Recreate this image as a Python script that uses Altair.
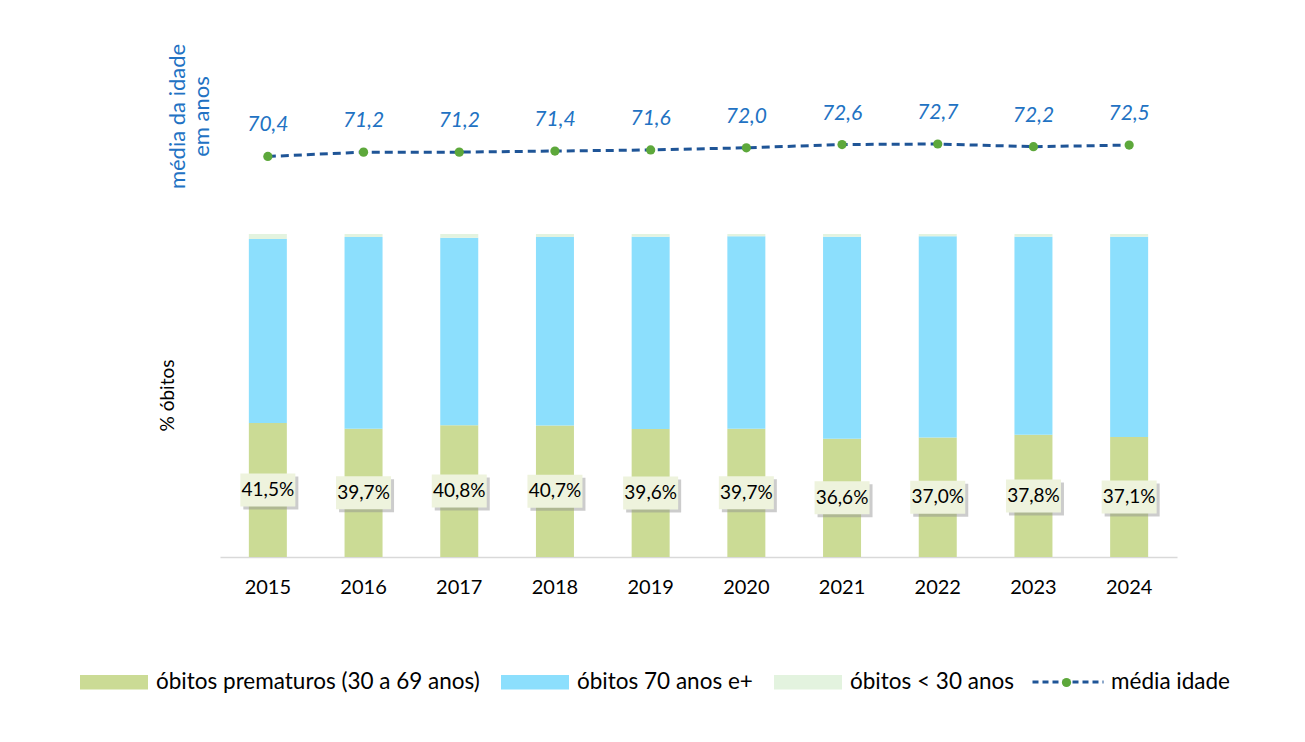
import altair as alt
import pandas as pd

years = ["2015", "2016", "2017", "2018", "2019", "2020", "2021", "2022", "2023", "2024"]
premature = [41.5, 39.7, 40.8, 40.7, 39.6, 39.7, 36.6, 37.0, 37.8, 37.1]
over70 = [56.9, 59.3, 58.0, 58.3, 59.5, 59.6, 62.5, 62.3, 61.3, 62.0]
under30 = [1.6, 1.0, 1.2, 1.0, 0.9, 0.7, 0.9, 0.7, 0.9, 0.9]
mean_age = [70.4, 71.2, 71.2, 71.4, 71.6, 72.0, 72.6, 72.7, 72.2, 72.5]

groups = ["óbitos prematuros (30 a 69 anos)", "óbitos 70 anos e+", "óbitos < 30 anos"]
group_colors = ["#CBDB95", "#8CDFFD", "#E3F3DF"]

rows = []
for i, y in enumerate(years):
    for k, (g, vals) in enumerate(zip(groups, [premature, over70, under30])):
        rows.append({"Ano": y, "Grupo": g, "Valor": vals[i], "ordem": k})
bars_df = pd.DataFrame(rows)

lab_df = pd.DataFrame({
    "Ano": years,
    "Meio": [v / 2 for v in premature],
    "Texto": [f"{v:.1f}%".replace(".", ",") for v in premature],
})

line_df = pd.DataFrame({
    "Ano": years,
    "Media": mean_age,
    "Texto": [f"{v:.1f}".replace(".", ",") for v in mean_age],
    "serie": ["média idade"] * len(years),
    "serie_p": ["média idade "] * len(years),
})

FONT = "Lato"
LEG_FS = 22.5
BAR_DOMAIN = [0, 160]
LINE_DOMAIN = [-3.36, 91.85]

x_enc = alt.X(
    "Ano:O",
    sort=years,
    scale=alt.Scale(paddingInner=0.6, paddingOuter=0.3),
    axis=alt.Axis(
        title=None, labelAngle=0, ticks=False, domainColor="#D9D9D9", domainWidth=1.5,
        labelFontSize=20, labelPadding=20, labelColor="#000000", labelFont=FONT,
    ),
)

bars = alt.Chart(bars_df).mark_bar(size=38).encode(
    x=x_enc,
    y=alt.Y(
        "Valor:Q", stack="zero",
        scale=alt.Scale(domain=BAR_DOMAIN, nice=False, zero=True),
        axis=alt.Axis(
            title="% óbitos", labels=False, ticks=False, domain=False, grid=False,
            titleX=-53, titleY=355, titleAngle=270, titleAlign="center", titleBaseline="middle",
            titleFontSize=19, titleFontWeight="normal", titleColor="#000000", titleFont=FONT,
        ),
    ),
    color=alt.Color(
        "Grupo:N",
        scale=alt.Scale(domain=groups, range=group_colors),
        legend=alt.Legend(
            orient="none", legendX=-140, legendY=608, direction="horizontal", title=None,
            symbolType="M-1,-0.21H1V0.21H-1Z", symbolSize=4624, symbolStrokeWidth=0,
            labelFontSize=LEG_FS, labelFont=FONT, labelColor="#000000", labelOffset=8,
            columnPadding=21, padding=0, labelLimit=500,
        ),
    ),
    order=alt.Order("ordem:Q"),
)

box_shape = "M-1,-0.6H1V0.6H-1Z"
y_mid = alt.Y("Meio:Q", scale=alt.Scale(domain=BAR_DOMAIN, nice=False), axis=None)

shadow = alt.Chart(lab_df).mark_point(
    shape=box_shape, filled=True, size=3025, color="#8F8F8F", opacity=0.45,
    strokeWidth=0, xOffset=3, yOffset=3,
).encode(x=alt.X("Ano:O", sort=years), y=y_mid)

boxes = alt.Chart(lab_df).mark_point(
    shape=box_shape, filled=True, size=3025, color="#EEF3DD", opacity=1, strokeWidth=0,
).encode(x=alt.X("Ano:O", sort=years), y=y_mid)

box_text = alt.Chart(lab_df).mark_text(
    fontSize=19, font=FONT, color="#000000", baseline="middle",
).encode(x=alt.X("Ano:O", sort=years), y=y_mid, text="Texto:N")

line = alt.Chart(line_df).mark_line(strokeWidth=3, strokeDash=[8, 5]).encode(
    x=alt.X("Ano:O", sort=years),
    y=alt.Y(
        "Media:Q",
        scale=alt.Scale(domain=LINE_DOMAIN, nice=False, zero=False),
        axis=alt.Axis(
            orient="left", title=["média da idade", "em anos"], labels=False, ticks=False,
            domain=False, grid=False, titleX=-43, titleY=76, titleAngle=270,
            titleAlign="center", titleBaseline="middle", titleFontSize=22,
            titleFontWeight="normal", titleColor="#2272C3", titleFont=FONT, titleLineHeight=24,
        ),
    ),
    stroke=alt.Stroke(
        "serie:N",
        scale=alt.Scale(range=["#1F5597"]),
        legend=alt.Legend(
            orient="none", legendX=811, legendY=605, title=None, symbolType="stroke",
            symbolSize=5041, symbolStrokeWidth=3, symbolDash=[6, 4], labelFontSize=LEG_FS,
            labelFont=FONT, labelColor="#000000", labelOffset=6, padding=0,
        ),
    ),
)

points = alt.Chart(line_df).mark_point(filled=True, size=85, opacity=1, strokeWidth=0).encode(
    x=alt.X("Ano:O", sort=years),
    y=alt.Y("Media:Q", scale=alt.Scale(domain=LINE_DOMAIN, nice=False, zero=False), axis=None),
    fill=alt.Fill(
        "serie_p:N",
        scale=alt.Scale(range=["#5DA83B"]),
        legend=alt.Legend(
            orient="none", legendX=841, legendY=637, title=None, symbolType="circle",
            symbolSize=85, labelExpr="''", padding=0,
        ),
    ),
)

line_text = alt.Chart(line_df).mark_text(
    dy=-31, fontSize=21, fontStyle="italic", font=FONT, color="#2272C3", baseline="middle",
).encode(
    x=alt.X("Ano:O", sort=years),
    y=alt.Y("Media:Q", scale=alt.Scale(domain=LINE_DOMAIN, nice=False, zero=False), axis=None),
    text="Texto:N",
)

chart = alt.layer(
    bars, shadow, boxes, box_text, line, points, line_text
).resolve_scale(
    y="independent"
).properties(
    width=957, height=517,
    autosize=alt.AutoSizeParams(type="none"),
    padding={"left": 212, "top": 32, "right": 110, "bottom": 180},
).configure(font=FONT).configure_view(stroke=None)

chart.save("out.html", embed_options={"renderer": "svg", "actions": False})
